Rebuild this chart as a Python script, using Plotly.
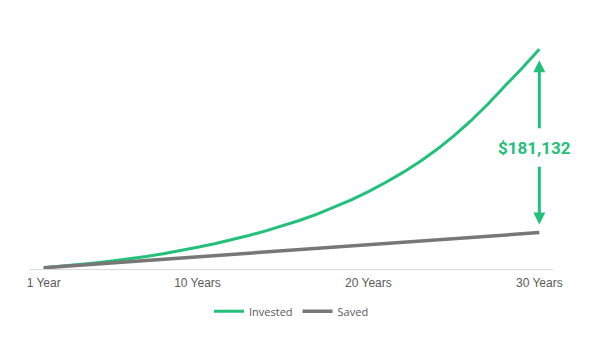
import plotly.graph_objects as go

# Growth of $100/month contributions over 30 years
years = list(range(1, 31))
invested = [1250, 2650, 4250, 6000, 7900, 10000, 12400, 15100, 18100, 21400,
            25000, 28900, 33100, 37700, 42700, 48200, 54300, 61000, 68400, 76500,
            85400, 95200, 106000, 118000, 131500, 146500, 163000, 181000, 198500, 217132]
saved = [1200, 2400, 3600, 4800, 6000, 7200, 8400, 9600, 10800, 12000,
         13200, 14400, 15600, 16800, 18000, 19200, 20400, 21600, 22800, 24000,
         25200, 26400, 27600, 28800, 30000, 31200, 32400, 33600, 34800, 36000]
tick_years = [1, 10, 20, 30]
tick_text = ["1 Year", "10 Years", "20 Years", "30 Years"]

GREEN = "#22c07a"
GREY = "#777777"

fig = go.Figure()
fig.add_trace(go.Scatter(x=years, y=invested, name="Invested", mode="lines",
                         line=dict(color=GREEN, width=3)))
fig.add_trace(go.Scatter(x=years, y=saved, name="Saved", mode="lines",
                         line=dict(color=GREY, width=3.5)))

# Difference callout at the final year
last = years[-1]
diff = invested[-1] - saved[-1]
label_y = 120000
gap = 17500
fig.add_annotation(x=last, y=invested[-1] - 11000, ax=last, ay=label_y + gap,
                   xref="x", yref="y", axref="x", ayref="y", text="",
                   showarrow=True, arrowhead=2, arrowsize=0.8, arrowwidth=3,
                   arrowcolor=GREEN)
fig.add_annotation(x=last, y=saved[-1] + 8000, ax=last, ay=label_y - gap,
                   xref="x", yref="y", axref="x", ayref="y", text="",
                   showarrow=True, arrowhead=2, arrowsize=0.8, arrowwidth=3,
                   arrowcolor=GREEN)
fig.add_annotation(x=last, y=label_y, xref="x", yref="y", showarrow=False,
                   text=f"<b>${diff:,}</b>", xshift=-5,
                   font=dict(family="Roboto", size=17, color=GREEN))

fig.update_layout(
    width=596, height=340,
    margin=dict(l=30, r=43, t=20, b=71),
    paper_bgcolor="white", plot_bgcolor="white",
    showlegend=True,
    legend=dict(orientation="h", x=0.5, xanchor="center", y=-0.17, yanchor="middle",
                font=dict(family="Open Sans", size=11, color="#595959"),
                itemclick=False, itemdoubleclick=False),
    xaxis=dict(range=[0.2, 30.8], tickmode="array", tickvals=tick_years, ticktext=tick_text,
               showgrid=False, zeroline=False, showline=True, linecolor="#d9d9d9", linewidth=1,
               ticks="", ticklabelstandoff=3,
               tickfont=dict(family="Liberation Sans", size=12, color="#595959")),
    yaxis=dict(range=[0, 246000], visible=False, showgrid=False, zeroline=False),
)

fig.write_html("out.html")
